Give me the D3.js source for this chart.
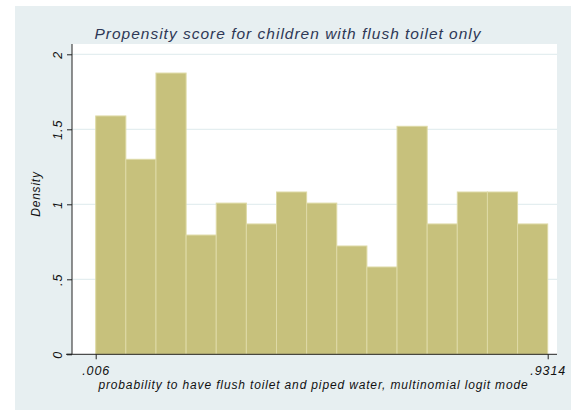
<!DOCTYPE html>
<html><head><meta charset="utf-8">
<script src="https://cdn.jsdelivr.net/npm/d3@7"></script>
<style>
html,body{margin:0;padding:0;background:#fff;}
svg{display:block;}
text{font-family:"Liberation Sans",Arial,sans-serif;font-style:italic;}
</style></head>
<body>
<script>
const binStart = 0.006;
const binEnd = 0.9314;
const densities = [1.589, 1.30, 1.875, 0.795, 1.008, 0.869, 1.082, 1.008, 0.722, 0.582, 1.52, 0.869, 1.082, 1.082, 0.869];
const yTicks = [0, 0.5, 1, 1.5, 2];
const yTickLabels = ["0", ".5", "1", "1.5", "2"];
const xTicks = [0.006, 0.9314];
const xTickLabels = [".006", ".9314"];
const titleText = "Propensity score for children with flush toilet only";
const xTitle = "probability to have flush toilet and piped water, multinomial logit mode";
const yTitle = "Density";

const W = 571, H = 410;
const svg = d3.select("body").append("svg").attr("width", W).attr("height", H);

svg.append("rect").attr("x", 15).attr("y", 6).attr("width", W - 15).attr("height", H - 6).attr("fill", "#e7eff1");
const plot = {left: 72, right: 557, top: 44, bottom: 354.3};
svg.append("rect").attr("x", plot.left).attr("y", plot.top).attr("width", plot.right - plot.left).attr("height", plot.bottom - plot.top).attr("fill", "#ffffff");

const x = d3.scaleLinear().domain([binStart, binEnd]).range([95.7, 547.7]);
const y = d3.scaleLinear().domain([0, 2]).range([354.3, 54.3]);

svg.append("g").selectAll("line").data(yTicks.filter(d => d > 0)).join("line")
  .attr("x1", plot.left).attr("x2", plot.right)
  .attr("y1", d => y(d)).attr("y2", d => y(d))
  .attr("stroke", "#e4eef0").attr("stroke-width", 1.2);

const bw = (binEnd - binStart) / densities.length;
svg.append("g").selectAll("rect").data(densities).join("rect")
  .attr("x", (d, i) => x(binStart + i * bw))
  .attr("width", (d, i) => x(binStart + (i + 1) * bw) - x(binStart + i * bw))
  .attr("y", d => y(d))
  .attr("height", d => y(0) - y(d))
  .attr("fill", "#c7c17c")
  .attr("stroke", "#dedaa6").attr("stroke-width", 1);

const tickFont = sel => sel.attr("fill", "#111").attr("font-size", 12.5).attr("letter-spacing", 0.9)
  .style("font-family", "'Liberation Sans', Arial, sans-serif").style("font-style", "italic");

const yAxis = d3.axisLeft(y).tickValues(yTicks).tickSize(5).tickFormat((d, i) => yTickLabels[i]);
const gy = svg.append("g").attr("transform", `translate(${plot.left},0)`).call(yAxis);
gy.select(".domain").attr("d", `M-5,${y(0)}H0V${plot.top}`).attr("stroke", "#222").attr("stroke-width", 1);
gy.selectAll(".tick line").attr("stroke", "#222");
gy.selectAll(".tick text")
  .attr("x", 0).attr("y", 0).attr("dy", null)
  .attr("text-anchor", "middle")
  .attr("transform", "translate(-10,0) rotate(-90)")
  .call(tickFont);

const xAxis = d3.axisBottom(x).tickValues(xTicks).tickSize(5).tickFormat((d, i) => xTickLabels[i]);
const gx = svg.append("g").attr("transform", `translate(0,${y(0)})`).call(xAxis);
gx.select(".domain").attr("d", `M66,0H${plot.right}`).attr("stroke", "#222").attr("stroke-width", 1);
gx.selectAll(".tick line").attr("stroke", "#222");
gx.selectAll(".tick text").attr("y", 12).attr("dy", "0.71em").call(tickFont);

svg.append("text").attr("x", 288).attr("y", 39).attr("text-anchor", "middle")
  .attr("font-size", 15.5).attr("letter-spacing", 1.0).attr("fill", "#2e3856").text(titleText);
svg.append("text").attr("x", 313.5).attr("y", 389).attr("text-anchor", "middle")
  .attr("font-size", 12).attr("letter-spacing", 0.85).attr("fill", "#111").text(xTitle);
svg.append("text").attr("transform", "translate(40,194) rotate(-90)").attr("text-anchor", "middle")
  .attr("font-size", 12).attr("letter-spacing", 0.8).attr("fill", "#111").text(yTitle);
</script>
</body></html>
